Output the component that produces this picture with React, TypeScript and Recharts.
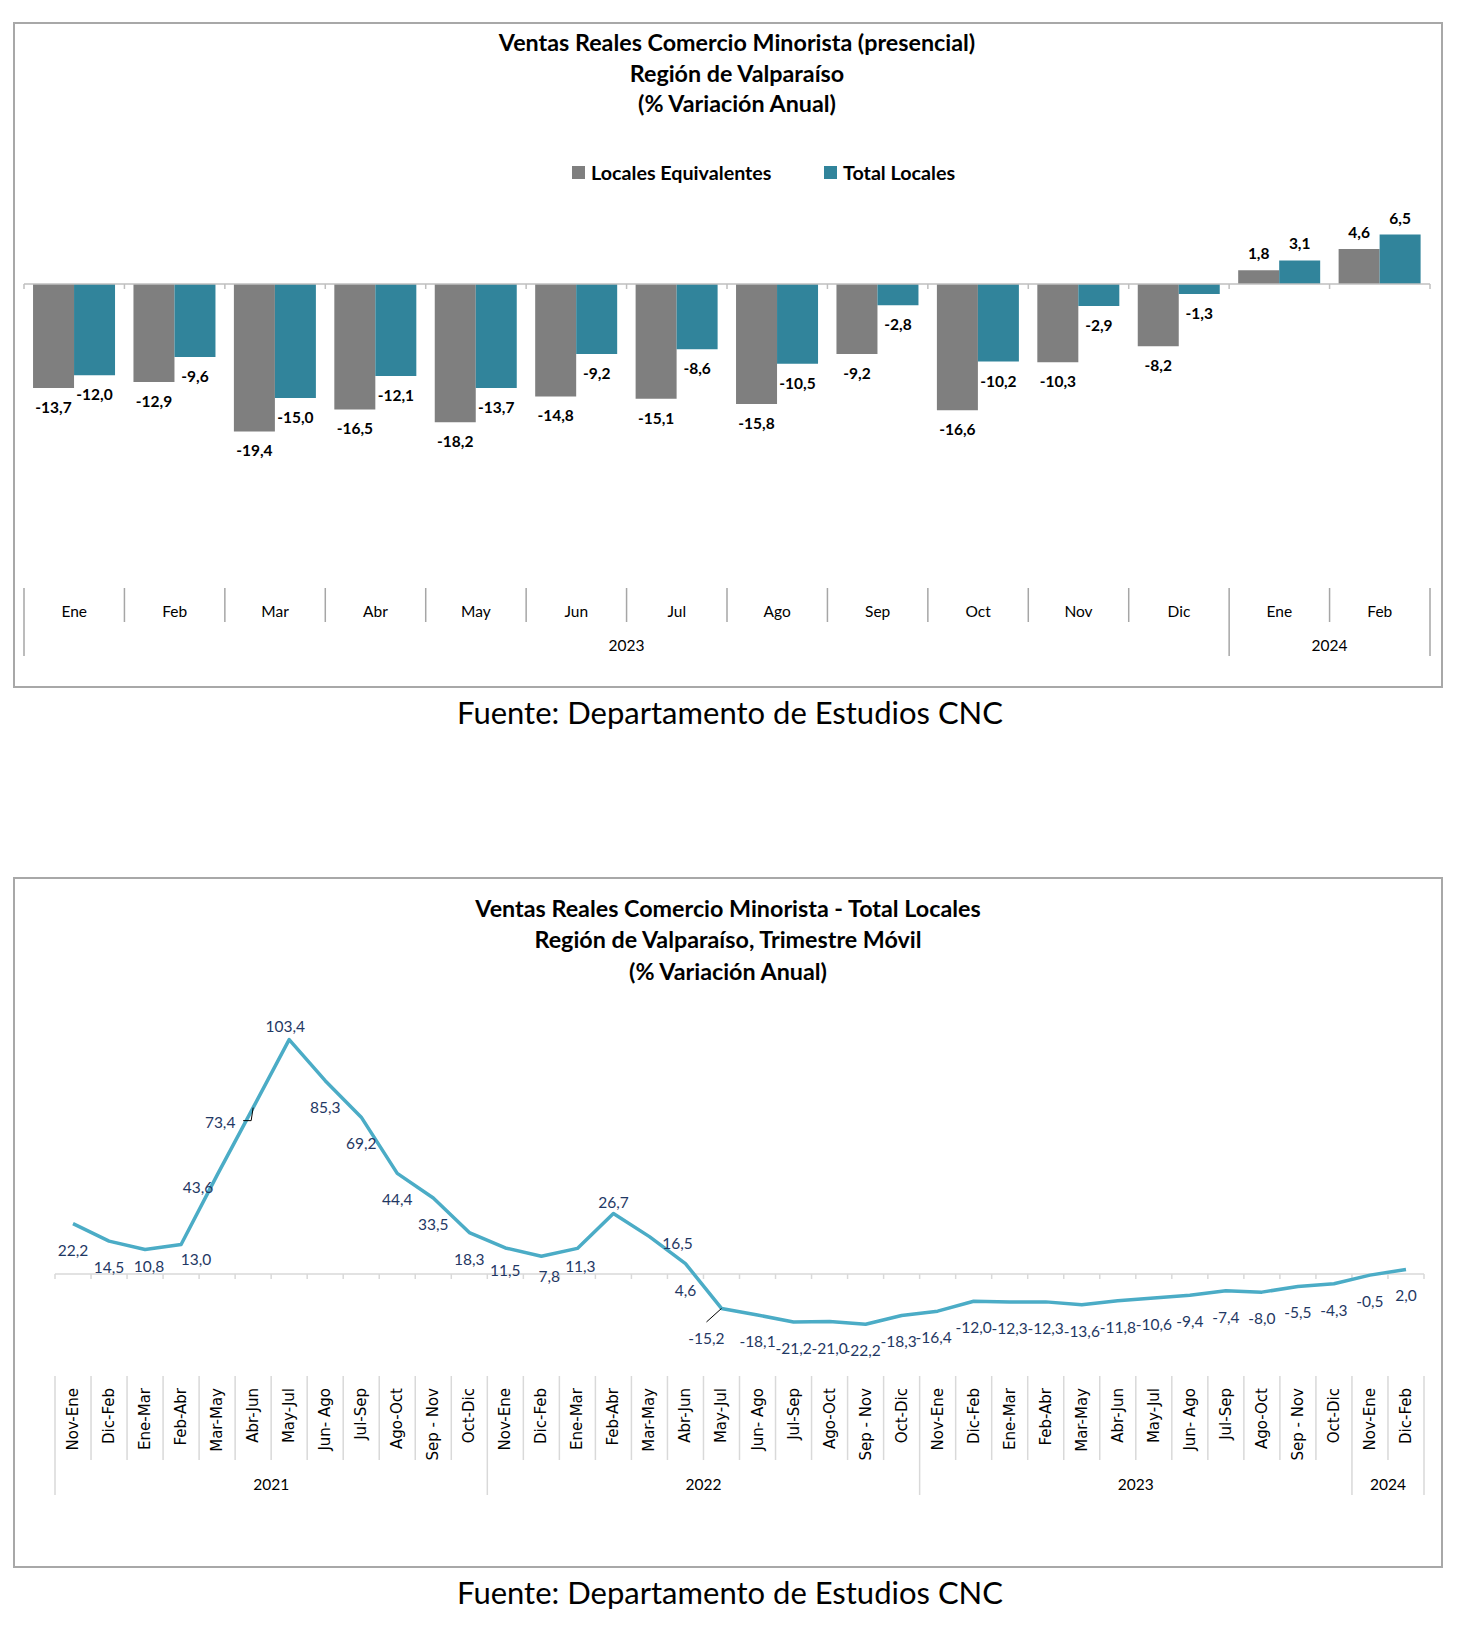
import React from "react";
import {
  Bar,
  BarChart,
  LabelList,
  Legend,
  Line,
  LineChart,
  ReferenceLine,
  XAxis,
  YAxis,
} from "recharts";

document.body.style.margin = "0";

// --- chart 1: monthly, two series
const months = ["Ene", "Feb", "Mar", "Abr", "May", "Jun", "Jul", "Ago", "Sep", "Oct", "Nov", "Dic", "Ene", "Feb"];
const localesEquivalentes = [-13.7, -12.9, -19.4, -16.5, -18.2, -14.8, -15.1, -15.8, -9.2, -16.6, -10.3, -8.2, 1.8, 4.6];
const totalLocales = [-12.0, -9.6, -15.0, -12.1, -13.7, -9.2, -8.6, -10.5, -2.8, -10.2, -2.9, -1.3, 3.1, 6.5];
const monthYears = ["2023", "2024"];
const monthYearSpans = [12, 2];

// --- chart 2: rolling quarter
const trimestres = [
  "Nov-Ene", "Dic-Feb", "Ene-Mar", "Feb-Abr", "Mar-May", "Abr-Jun", "May-Jul", "Jun- Ago", "Jul-Sep", "Ago-Oct", "Sep - Nov", "Oct-Dic",
  "Nov-Ene", "Dic-Feb", "Ene-Mar", "Feb-Abr", "Mar-May", "Abr-Jun", "May-Jul", "Jun- Ago", "Jul-Sep", "Ago-Oct", "Sep - Nov", "Oct-Dic",
  "Nov-Ene", "Dic-Feb", "Ene-Mar", "Feb-Abr", "Mar-May", "Abr-Jun", "May-Jul", "Jun- Ago", "Jul-Sep", "Ago-Oct", "Sep - Nov", "Oct-Dic",
  "Nov-Ene", "Dic-Feb",
];
const trimestreTotal = [
  22.2, 14.5, 10.8, 13.0, 43.6, 73.4, 103.4, 85.3, 69.2, 44.4, 33.5, 18.3,
  11.5, 7.8, 11.3, 26.7, 16.5, 4.6, -15.2, -18.1, -21.2, -21.0, -22.2, -18.3,
  -16.4, -12.0, -12.3, -12.3, -13.6, -11.8, -10.6, -9.4, -7.4, -8.0, -5.5, -4.3,
  -0.5, 2.0,
];
const trimestreYears = ["2021", "2022", "2023", "2024"];
const trimestreYearSpans = [12, 12, 12, 2];

const FONT = "Lato, 'Open Sans', sans-serif";
const AXIS_FONT = "'DejaVu Sans', Verdana, sans-serif";
const GRAY = "#7F7F7F";
const TEAL = "#31849B";
const LINE = "#4BACC6";
const NAVY = "#1F3864";

const fmt = (v: number) => v.toFixed(1).replace(".", ",");

const barData = months.map((m, i) => ({
  key: String(i),
  month: m,
  eq: localesEquivalentes[i],
  total: totalLocales[i],
}));

const lineData = trimestres.map((t, i) => ({ key: String(i), label: t, value: trimestreTotal[i] }));

function groupStarts(spans: number[]) {
  const out: number[] = [];
  let acc = 0;
  spans.forEach((s) => {
    out.push(acc);
    acc += s;
  });
  return out;
}

// horizontal line at zero with small tick marks between categories
function zeroAxis(count: number, color: string) {
  return (p: any) => {
    const { x1, x2, y1 } = p;
    const step = (x2 - x1) / count;
    return (
      <g>
        <line x1={x1} x2={x2} y1={y1} y2={y1} stroke={color} strokeWidth={1.5} />
        {Array.from({ length: count + 1 }, (_, k) => (
          <line key={k} x1={x1 + k * step} x2={x1 + k * step} y1={y1} y2={y1 + 5} stroke={color} strokeWidth={1.5} />
        ))}
      </g>
    );
  };
}

function MonthTick(props: any) {
  const { x, y, payload } = props;
  const i = payload.index ?? props.index;
  const half = payload.offset || 50.2;
  const g = groupStarts(monthYearSpans).indexOf(i);
  const left = x - half;
  const txt = { fontFamily: FONT, fontSize: 15.5, fill: "#000" };
  return (
    <g>
      <line x1={left} x2={left} y1={y} y2={y + (g >= 0 ? 68 : 34)} stroke="#A6A6A6" strokeWidth={1.5} />
      {i === months.length - 1 && (
        <line x1={x + half} x2={x + half} y1={y} y2={y + 68} stroke="#A6A6A6" strokeWidth={1.5} />
      )}
      <text x={x} y={y + 23} textAnchor="middle" dominantBaseline="central" {...txt}>
        {months[i]}
      </text>
      {g >= 0 && (
        <text x={left + monthYearSpans[g] * half} y={y + 57} textAnchor="middle" dominantBaseline="central" {...txt}>
          {monthYears[g]}
        </text>
      )}
    </g>
  );
}

function TrimestreTick(props: any) {
  const { x, y, payload } = props;
  const i = payload.index ?? props.index;
  const half = payload.offset || 18;
  const g = groupStarts(trimestreYearSpans).indexOf(i);
  const left = x - half;
  return (
    <g>
      <line x1={left} x2={left} y1={y} y2={y + (g >= 0 ? 119 : 84)} stroke="#D9D9D9" strokeWidth={1.5} />
      {i === trimestres.length - 1 && (
        <line x1={x + half} x2={x + half} y1={y} y2={y + 119} stroke="#D9D9D9" strokeWidth={1.5} />
      )}
      <text
        x={x}
        y={y + 12}
        transform={`rotate(-90 ${x} ${y + 12})`}
        textAnchor="end"
        dominantBaseline="central"
        fontFamily={AXIS_FONT}
        fontSize={15}
        fill="#000"
      >
        {trimestres[i]}
      </text>
      {g >= 0 && (
        <text
          x={left + trimestreYearSpans[g] * half}
          y={y + 108}
          textAnchor="middle"
          dominantBaseline="central"
          fontFamily={FONT}
          fontSize={15.5}
          fill="#000"
        >
          {trimestreYears[g]}
        </text>
      )}
    </g>
  );
}

function BarValueLabel(props: any) {
  const { x, y, width, height, value } = props;
  const top = Math.min(y, y + height);
  const bottom = Math.max(y, y + height);
  const cy = value >= 0 ? top - 17 : bottom + 19;
  return (
    <text
      x={x + width / 2}
      y={cy}
      textAnchor="middle"
      dominantBaseline="central"
      fontFamily={FONT}
      fontWeight={700}
      fontSize={15.5}
      fill="#000"
    >
      {fmt(value)}
    </text>
  );
}

function BarLegend({ payload }: any) {
  return (
    <div style={{ display: "flex", fontFamily: FONT, fontWeight: 700, fontSize: 19.7, color: "#000" }}>
      {(payload || []).map((p: any, k: number) => (
        <div key={k} style={{ display: "flex", alignItems: "center", width: k === 0 ? 252 : "auto" }}>
          <span style={{ width: 13, height: 13, background: p.color, marginRight: 6, display: "inline-block" }} />
          <span>{p.value}</span>
        </div>
      ))}
    </div>
  );
}

// label nudges (dx, dy from the point) where the original moved labels by hand
const nudges: Record<number, [number, number]> = {
  2: [4, 16],
  3: [15, 14.5],
  4: [-19, 12],
  5: [-33, 14],
  6: [-4, -14],
  12: [0, 22],
  13: [8, 20],
  14: [3, 18],
  15: [0, -11],
  16: [28, 6],
  18: [-15, 30],
  22: [-3, 26],
  23: [-3, 26],
  24: [-4, 26],
};
const leaders: Record<number, [number, number][]> = {
  5: [[-10, 13], [-2, 13], [0, 0]],
  18: [[-15, 13.5], [0, 0]],
};

function LineValueLabel(props: any) {
  const { x, y, value, index } = props;
  const [dx, dy] = nudges[index] ?? [0, 26];
  const lead = leaders[index];
  return (
    <g>
      {lead && (
        <polyline
          points={lead.map(([a, b]) => `${x + a},${y + b}`).join(" ")}
          fill="none"
          stroke="#000"
          strokeWidth={1}
        />
      )}
      <text
        x={x + dx}
        y={y + dy}
        textAnchor="middle"
        dominantBaseline="central"
        fontFamily={FONT}
        fontSize={15.5}
        fill={NAVY}
      >
        {fmt(value)}
      </text>
    </g>
  );
}

const frame = (top: number, height: number): React.CSSProperties => ({
  position: "absolute",
  left: 13,
  top,
  width: 1430,
  height,
  boxSizing: "border-box",
  border: "2px solid #A8A8A8",
});

const titleStyle = (cx: number, top: number, lh: number): React.CSSProperties => ({
  position: "absolute",
  left: cx - 450,
  width: 900,
  top,
  textAlign: "center",
  fontFamily: FONT,
  fontWeight: 700,
  fontSize: 23.3,
  lineHeight: `${lh}px`,
  color: "#000",
});

const sourceStyle = (top: number): React.CSSProperties => ({
  position: "absolute",
  left: 330,
  width: 800,
  top,
  textAlign: "center",
  fontFamily: FONT,
  fontSize: 31,
  lineHeight: "40px",
  color: "#000",
});

export default function App() {
  return (
    <div style={{ position: "relative", width: 1464, height: 1644, background: "#fff", overflow: "hidden" }}>
      <div style={frame(22, 666)} />
      <div style={frame(877, 691)} />

      <div style={{ position: "absolute", left: 0, top: 0 }}>
        <BarChart
          width={1464}
          height={700}
          data={barData}
          margin={{ top: 208, right: 34, bottom: 43, left: 24 }}
          barCategoryGap="9%"
          barGap={0}
        >
          <XAxis
            dataKey="key"
            interval={0}
            axisLine={false}
            tickLine={false}
            tickSize={0}
            tickMargin={0}
            height={69}
            tick={(p: any) => <MonthTick {...p} />}
          />
          <YAxis hide domain={[-40, 10]} />
          <Legend
            verticalAlign="middle"
            align="center"
            wrapperStyle={{ left: 572, top: 161, width: 440 }}
            content={(p: any) => <BarLegend {...p} />}
          />
          <Bar dataKey="eq" name="Locales Equivalentes" fill={GRAY} isAnimationActive={false}>
            <LabelList dataKey="eq" content={(p: any) => <BarValueLabel {...p} />} />
          </Bar>
          <Bar dataKey="total" name="Total Locales" fill={TEAL} isAnimationActive={false}>
            <LabelList dataKey="total" content={(p: any) => <BarValueLabel {...p} />} />
          </Bar>
          <ReferenceLine y={0} shape={zeroAxis(months.length, "#BFBFBF")} />
        </BarChart>
      </div>

      <div style={{ position: "absolute", left: 0, top: 860 }}>
        <LineChart
          width={1464}
          height={784}
          data={lineData}
          margin={{ top: 142, right: 40, bottom: 149, left: 55 }}
        >
          <XAxis
            dataKey="key"
            scale="band"
            interval={0}
            axisLine={false}
            tickLine={false}
            tickSize={0}
            tickMargin={0}
            height={119}
            tick={(p: any) => <TrimestreTick {...p} />}
          />
          <YAxis hide domain={[-45, 120]} />
          <ReferenceLine y={0} shape={zeroAxis(trimestres.length, "#D9D9D9")} />
          <Line
            type="linear"
            dataKey="value"
            stroke={LINE}
            strokeWidth={3.5}
            strokeLinejoin="round"
            dot={false}
            activeDot={false}
            isAnimationActive={false}
          >
            <LabelList dataKey="value" content={(p: any) => <LineValueLabel {...p} />} />
          </Line>
        </LineChart>
      </div>

      <div style={titleStyle(737, 27, 30.5)}>
        Ventas Reales Comercio Minorista (presencial)
        <br />
        Región de Valparaíso
        <br />
        (% Variación Anual)
      </div>
      <div style={titleStyle(728, 893, 31.25)}>
        Ventas Reales Comercio Minorista - Total Locales
        <br />
        Región de Valparaíso, Trimestre Móvil
        <br />
        (% Variación Anual)
      </div>

      <div style={sourceStyle(692)}>Fuente: Departamento de Estudios CNC</div>
      <div style={sourceStyle(1572)}>Fuente: Departamento de Estudios CNC</div>
    </div>
  );
}
